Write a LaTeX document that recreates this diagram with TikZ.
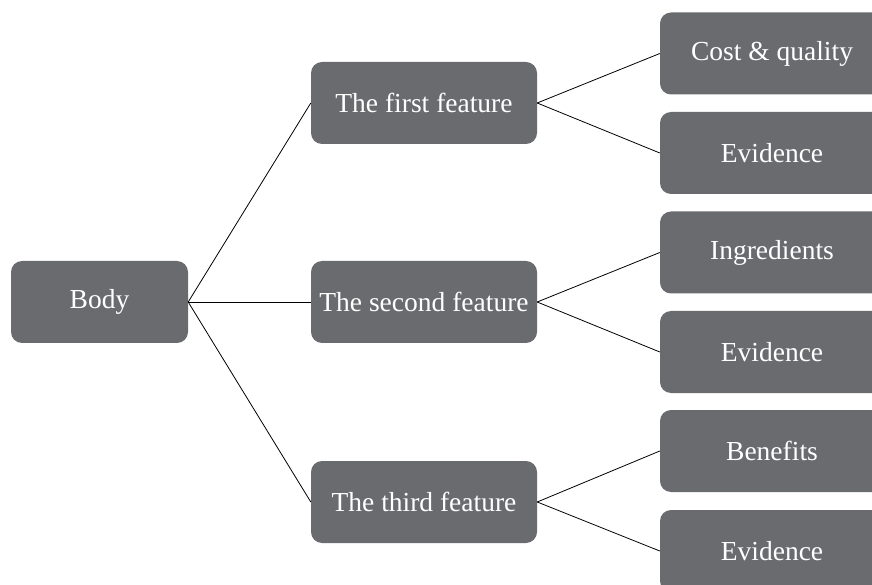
\documentclass[tikz,border=0pt]{standalone}
\usepackage{fontspec}
\setmainfont{Liberation Serif}

\begin{document}
\begin{tikzpicture}[x=1pt,y=1pt]

\definecolor{boxgrey}{RGB}{106,107,111}
\tikzset{Box/.style = {fill=boxgrey, rounded corners=11pt, text=white,
                       minimum height=82pt, inner sep=0pt,
                       font=\fontsize{27.5}{33}\selectfont},
         BodyBox/.style = {Box, minimum width=177pt},
         FeatBox/.style = {Box, minimum width=226pt},
         LeafBox/.style = {Box, minimum width=224pt},
         Link/.style = {line width=.8pt, black}}

\useasboundingbox (0,0) rectangle (872,584);
\clip (0,0) rectangle (872,584);

\node[BodyBox] (body) at (99.5,282) {Body};

\node[FeatBox] (f1) at (424,481) {The first feature};
\node[FeatBox] (f2) at (424,282) {The second feature};
\node[FeatBox] (f3) at (424,82) {The third feature};

\node[LeafBox] (cost)  at (772,530.5) {Cost \& quality};
\node[LeafBox] (ev1)   at (772,431)   {Evidence};
\node[LeafBox] (ingr)  at (772,331.5) {Ingredients};
\node[LeafBox] (ev2)   at (772,232)   {Evidence};
\node[LeafBox] (ben)   at (772,133)   {Benefits};
\node[LeafBox] (ev3)   at (772,33)    {Evidence};

\draw[Link] (body.east) -- (f1.west);
\draw[Link] (body.east) -- (f2.west);
\draw[Link] (body.east) -- (f3.west);

\draw[Link] (f1.east) -- (cost.west);
\draw[Link] (f1.east) -- (ev1.west);
\draw[Link] (f2.east) -- (ingr.west);
\draw[Link] (f2.east) -- (ev2.west);
\draw[Link] (f3.east) -- (ben.west);
\draw[Link] (f3.east) -- (ev3.west);

\end{tikzpicture}
\end{document}
